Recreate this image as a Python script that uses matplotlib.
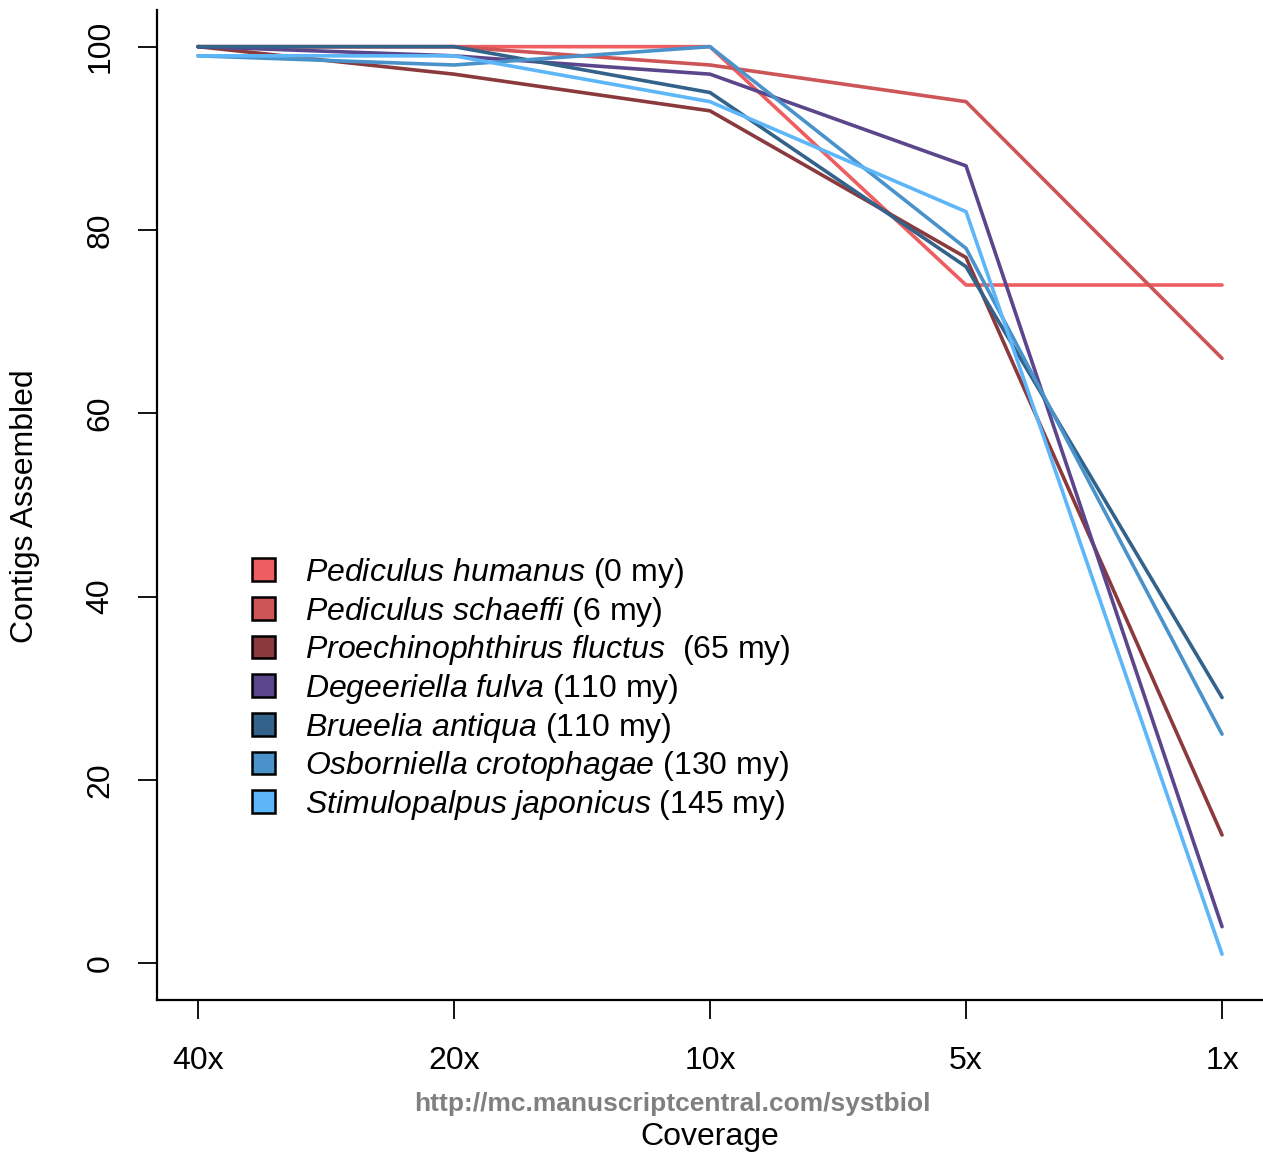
import matplotlib
matplotlib.use("Agg")
import matplotlib.pyplot as plt
from matplotlib.patches import Patch

plt.rcParams['font.family'] = ['Liberation Sans', 'DejaVu Sans']
plt.rcParams['mathtext.fontset'] = 'custom'
plt.rcParams['mathtext.rm'] = 'Liberation Sans'
plt.rcParams['mathtext.it'] = 'Liberation Sans:italic'

coverage = ["40x", "20x", "10x", "5x", "1x"]

species = ["Pediculus humanus", "Pediculus schaeffi", "Proechinophthirus fluctus",
           "Degeeriella fulva", "Brueelia antiqua", "Osborniella crotophagae",
           "Stimulopalpus japonicus"]
ages = ["(0 my)", "(6 my)", " (65 my)", "(110 my)", "(110 my)", "(130 my)", "(145 my)"]
colors = ["#EE5E60", "#CD5457", "#8A3A3C", "#5B468C", "#33628A", "#4A92CA", "#5DB6F8"]

humanus = [100, 100, 100, 74, 74]
schaeffi = [100, 100, 98, 94, 66]
fluctus = [100, 97, 93, 77, 14]
fulva = [100, 99, 97, 87, 4]
antiqua = [100, 100, 95, 76, 29]
crotophagae = [99, 98, 100, 78, 25]
japonicus = [99, 99, 94, 82, 1]
series = [humanus, schaeffi, fluctus, fulva, antiqua, crotophagae, japonicus]

fig = plt.figure(figsize=(12.63, 11.53), dpi=100)
ax = fig.add_axes([157/1263, 153/1153, 1106/1263, 990/1153])

x = list(range(1, len(coverage) + 1))
for vals, c in zip(series, colors):
    ax.plot(x, vals, color=c, lw=2.6, solid_capstyle='round')

ax.set_xlim(0.84, 5.16)
ax.set_ylim(-4, 104)
ax.set_xticks(x)
ax.set_xticklabels(coverage)
ax.set_yticks([0, 20, 40, 60, 80, 100])
ax.set_yticklabels(["0", "20", "40", "60", "80", "100"], rotation=90, va='center')
ax.tick_params(axis='both', labelsize=23, length=14, width=1.3, direction='out')
ax.tick_params(axis='y', pad=16)
ax.tick_params(axis='x', pad=19)
ax.spines['top'].set_visible(False)
ax.spines['right'].set_visible(False)
for s in ['left', 'bottom']:
    ax.spines[s].set_linewidth(1.6)

handles = [Patch(facecolor=c, edgecolor='black', linewidth=1.8) for c in colors]
labels = [r"$\mathit{" + sp.replace(" ", r"\ ") + "}$ " + ag for sp, ag in zip(species, ages)]
ax.legend(handles, labels, loc='upper left', bbox_to_anchor=(252/1263, 1 - 556/1153),
          bbox_transform=fig.transFigure, frameon=False, fontsize=23,
          handlelength=0.72, handleheight=0.72, handletextpad=0.95,
          labelspacing=0.145, borderpad=0, borderaxespad=0)

fig.text(25/1263, 1 - 506/1153, "Contigs Assembled", rotation=90, ha='center', va='center', fontsize=23)
fig.text(710/1263, 1 - 1137/1153, "Coverage", ha='center', va='center', fontsize=23)
fig.text(672/1263, 1 - 1104/1153, "http://mc.manuscriptcentral.com/systbiol", ha='center', va='center',
         fontsize=19, fontweight='bold', color='#808080')

fig.savefig("out.png", dpi=100)
